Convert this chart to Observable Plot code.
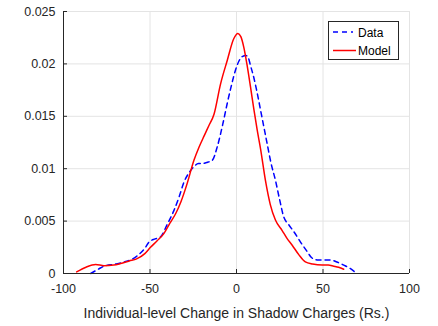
<!DOCTYPE html>
<html><head><meta charset="utf-8">
<script src="https://cdn.jsdelivr.net/npm/d3@7"></script>
<script src="https://cdn.jsdelivr.net/npm/@observablehq/plot@0.6"></script>
<style>
body{margin:0;background:#fff;font-family:Arial,"Liberation Sans",Helvetica,sans-serif}
#wrap{position:relative;width:438px;height:326px}
#legend{position:absolute;left:328px;top:21px;width:69px;height:37px;border:1px solid #262626;background:#fff}
#legend text{font-size:12px;fill:#000;font-family:Arial,"Liberation Sans",sans-serif}
</style></head>
<body><div id="wrap"></div>
<script>
const xTicks = [-100, -50, 0, 50, 100];
const xTickLabels = ["-100", "-50", "0", "50", "100"];
const yTicks = [0, 0.005, 0.01, 0.015, 0.02, 0.025];
const yTickLabels = ["0", "0.005", "0.01", "0.015", "0.02", "0.025"];
const xLabel = "Individual-level Change in Shadow Charges (Rs.)";
const seriesNames = ["Data", "Model"];

const dataX = [-84.3,-80,-76.6,-70,-65,-60,-57.3,-53,-50.6,-47,-43.9,-40,-36.2,-33,-30.4,-27.5,-24.6,-22,-19.8,-17,-14,-11.1,-8,-5.4,-3,-0.6,1.5,3.3,5.5,6.8,8,10,12,13.9,15.8,17.7,20,22.5,25,27.3,30,33.1,37,40.8,43.5,46.6,50,54.3,58,62,65.5,68.7];
const dataY = [0,0.0004,0.0007,0.0009,0.0011,0.0014,0.0017,0.0024,0.0030,0.0033,0.0035,0.0047,0.0060,0.0074,0.0087,0.0096,0.0102,0.0105,0.0105,0.0106,0.0108,0.0121,0.0142,0.0162,0.0179,0.0194,0.0203,0.0207,0.0208,0.0206,0.0199,0.0187,0.0172,0.0156,0.0140,0.0124,0.0105,0.0089,0.0070,0.0054,0.0047,0.0040,0.0030,0.0021,0.0015,0.0013,0.0013,0.0013,0.0011,0.0008,0.0005,0.0001];

const modelX = [-92.4,-87,-81.4,-76.6,-71,-67,-62,-57.7,-53,-49.7,-46,-42,-38.5,-35.2,-32,-28.5,-24.6,-21.8,-18.5,-16,-13,-9.2,-5.4,-1.6,0.8,2.5,4.2,6,8.1,10,12,13.9,16.7,19.5,22.5,26.4,29,32.2,36,39.8,44,49.5,53,56.2,59,62];
const modelY = [0.00015,0.0006,0.00086,0.00075,0.0008,0.00095,0.0012,0.0014,0.0019,0.0025,0.0031,0.0038,0.0048,0.0057,0.0069,0.0086,0.0108,0.0120,0.0132,0.0141,0.0152,0.0181,0.0203,0.0224,0.0229,0.0226,0.0216,0.0200,0.0178,0.0157,0.01365,0.0119,0.0089,0.0066,0.0051,0.0041,0.0034,0.0027,0.0018,0.0011,0.0009,0.0008,0.0008,0.0007,0.0006,0.0004];

const dataPts = dataX.map((x, i) => ({x, y: dataY[i]}));
const modelPts = modelX.map((x, i) => ({x, y: modelY[i]}));

const font = "Arial, 'Liberation Sans', Helvetica, sans-serif";
const plot = Plot.plot({
  width: 438, height: 326,
  marginLeft: 63, marginRight: 29, marginTop: 11, marginBottom: 53,
  style: {fontFamily: font, fontSize: "12.5px", color: "#262626", background: "#fff"},
  x: {domain: [-100, 100]},
  y: {domain: [0, 0.025]},
  marks: [
    Plot.gridX(xTicks, {stroke: "#e4e4e4", strokeOpacity: 1}),
    Plot.gridY(yTicks, {stroke: "#e4e4e4", strokeOpacity: 1}),
    Plot.line(dataPts, {x: "x", y: "y", stroke: "#0000ff", strokeWidth: 1.5, strokeDasharray: "5,4", curve: "monotone-x"}),
    Plot.line(modelPts, {x: "x", y: "y", stroke: "#ff0000", strokeWidth: 1.5, curve: "monotone-x"}),
    Plot.ruleX([-100], {stroke: "#262626"}),
    Plot.ruleY([0], {stroke: "#262626"}),
    Plot.axisX({ticks: xTicks, tickSize: 4, dy: -4, tickFormat: () => "", label: null, stroke: "#262626"}),
    Plot.axisY({ticks: yTicks, tickSize: 4, dx: 4, tickFormat: () => "", label: null, stroke: "#262626"}),
    Plot.axisX({ticks: xTicks, tickSize: 0, tickPadding: 11, tickFormat: (d, i) => xTickLabels[xTicks.indexOf(d)], fill: "#262626",
      label: xLabel, labelAnchor: "center", labelArrow: "none", labelOffset: 44, fontSize: 12.5}),
    Plot.axisY({ticks: yTicks, tickSize: 0, tickPadding: 8, tickFormat: (d) => yTickLabels[yTicks.indexOf(d)], fill: "#262626", label: null})
  ]
});
const wrap = document.getElementById("wrap");
wrap.appendChild(plot);
// make axis label larger
plot.querySelectorAll("[aria-label='x-axis label'] text").forEach(t => t.style.fontSize = "14px");

const leg = document.createElement("div");
leg.id = "legend";
leg.innerHTML = `<svg width="69" height="37">
<line x1="4" x2="24" y1="10" y2="10" stroke="#0000ff" stroke-width="1.5" stroke-dasharray="5,4"/>
<text x="29" y="14.5">${seriesNames[0]}</text>
<line x1="4" x2="27" y1="28.5" y2="28.5" stroke="#ff0000" stroke-width="1.5"/>
<text x="29" y="33">${seriesNames[1]}</text></svg>`;
wrap.appendChild(leg);
</script>
</body></html>
